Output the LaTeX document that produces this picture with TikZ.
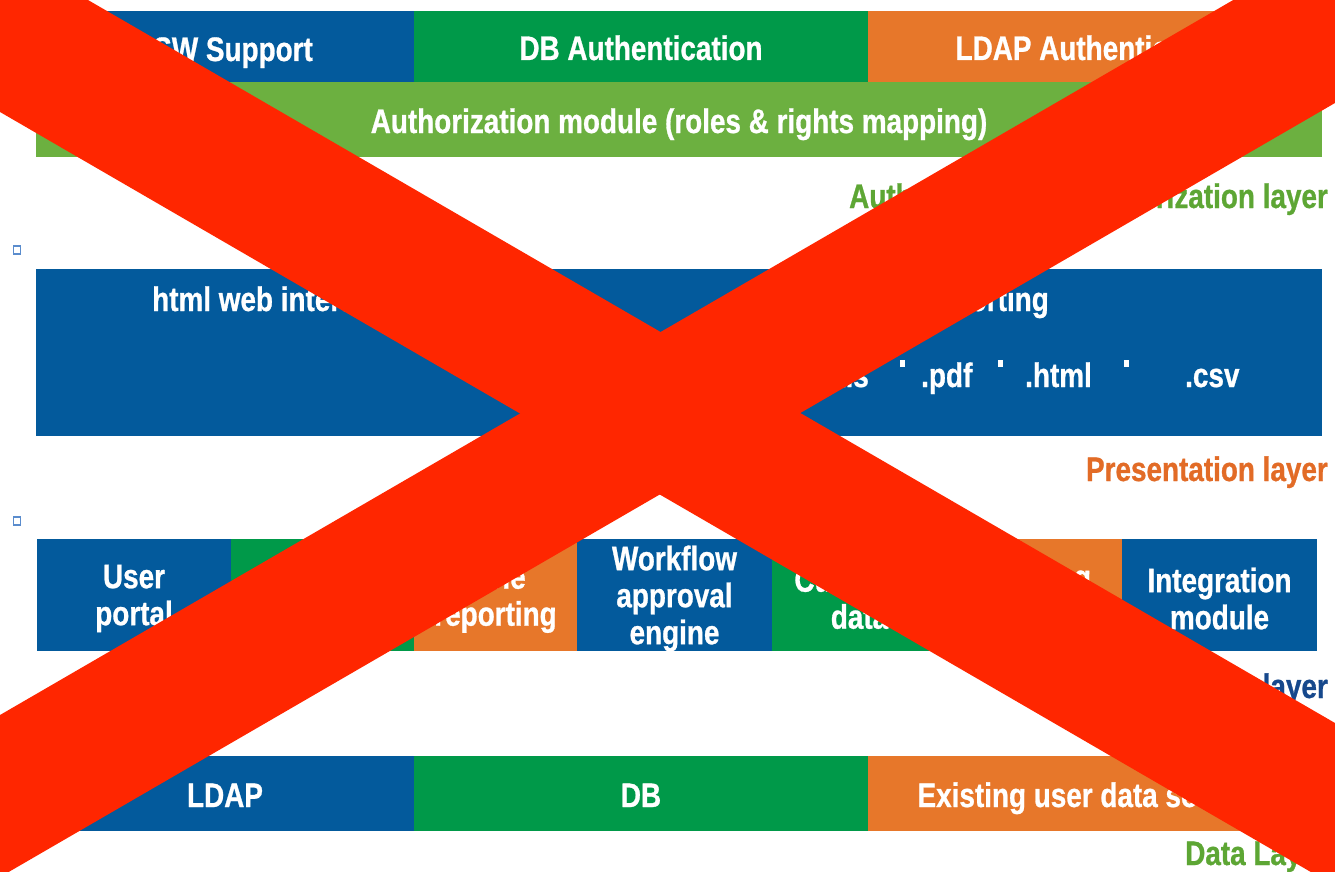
\documentclass[tikz,border=0pt]{standalone}
\usepackage{fontspec}
\setmainfont{Liberation Sans}[FakeStretch=0.82,FakeBold=0.8]
\definecolor{cblue}{RGB}{3,90,156}
\definecolor{cgreen}{RGB}{0,153,73}
\definecolor{corange}{RGB}{231,119,42}
\definecolor{clgreen}{RGB}{108,176,64}
\definecolor{labgreen}{RGB}{93,166,52}
\definecolor{laborange}{RGB}{226,107,38}
\definecolor{labblue}{RGB}{22,72,140}
\definecolor{xred}{RGB}{255,38,0}
\definecolor{sqblue}{RGB}{90,140,205}
\begin{document}
\begin{tikzpicture}[x=1pt,y=-1pt,
  blk/.style={rectangle, inner sep=0pt, outer sep=0pt, draw=none},
  wt/.style={text=white, inner sep=0pt, font=\bfseries\fontsize{34}{37}\selectfont, align=center},
  one/.style={wt, anchor=base, yshift=-13.5pt},
  multi/.style={wt, yshift=-3.5pt},
  lab/.style={inner sep=0pt, anchor=base east, font=\bfseries\fontsize{34}{37}\selectfont},
  sq/.style={rectangle, draw=sqblue, fill=white, line width=1.6pt, minimum width=7pt, minimum height=8pt, inner sep=0pt},
  bul/.style={rectangle, fill=white, draw=none, minimum width=5pt, minimum height=7pt, inner sep=0pt}]
\useasboundingbox (0,0) rectangle (1335,872);
\fill[white] (0,0) rectangle (1335,872);

% authentication / authorization layer
\node[blk, fill=cblue, minimum width=378pt, minimum height=71pt] (r1a) at (225,46.5) {};
\node[blk, fill=cgreen, minimum width=454pt, minimum height=71pt] (r1b) at (641,46.5) {};
\node[blk, fill=corange, minimum width=454pt, minimum height=71pt] (r1c) at (1095,46.5) {};
\node[blk, fill=clgreen, minimum width=1286pt, minimum height=75pt] (r2) at (679,119.5) {};
\node[wt, anchor=base east] (t1a) at (313,61) {SSO SW Support};
\node[one] (t1b) at (r1b.center) {DB Authentication};
\node[one] (t1c) at (r1c.center) {LDAP Authentication};
\node[one] (t2) at (r2.center) {Authorization module (roles \& rights mapping)};
\node[lab, text=labgreen] (l1) at (1328,208) {Authentication \& authorization layer};

\node[sq] (s1) at (16.8,250) {};
\node[sq] (s2) at (16.8,521) {};

% presentation layer
\node[blk, fill=cblue, minimum width=1286pt, minimum height=167pt] (pres) at (679,352.5) {};
\node[wt, anchor=base west] (html) at (152,311) {html web interface};
\node[wt, anchor=base east] (rep) at (1049,311) {Flexible reporting};
\node[wt, anchor=base east] (xls) at (869,387) {.xls};
\node[bul] (p1) at (902.5,363.5) {};
\node[wt, anchor=base west] (pdf) at (921,387) {.pdf};
\node[bul] (p2) at (1000.5,363.5) {};
\node[wt, anchor=base west] (htm) at (1025,387) {.html};
\node[bul] (p3) at (1126.5,363.5) {};
\node[wt, anchor=base west] (csv) at (1185,387) {.csv};
\node[lab, text=laborange] (l2) at (1328,481) {Presentation layer};

% business logic layer
\node[blk, fill=cblue, minimum width=194pt, minimum height=112pt] (b1) at (134,595) {};
\node[blk, fill=cgreen, minimum width=183pt, minimum height=112pt] (b2) at (322.5,595) {};
\node[blk, fill=corange, minimum width=163pt, minimum height=112pt] (b3) at (495.5,595) {};
\node[blk, fill=cblue, minimum width=195pt, minimum height=112pt] (b4) at (674.5,595) {};
\node[blk, fill=cgreen, minimum width=175pt, minimum height=112pt] (b5) at (859.5,595) {};
\node[blk, fill=corange, minimum width=175pt, minimum height=112pt] (b6) at (1034.5,595) {};
\node[blk, fill=cblue, minimum width=195pt, minimum height=112pt] (b7) at (1219.5,595) {};
\node[multi] (tb1) at (b1.center) {User\\portal};
\node[multi] (tb2) at (b2.center) {Admin\\console};
\node[multi] (tb3) at (b3.center) {Role\\reporting};
\node[multi] (tb4) at (b4.center) {Workflow\\approval\\engine};
\node[multi] (tb5) at (b5.center) {Customer\\data};
\node[multi] (tb6) at (b6.center) {Auditing\\\& logging};
\node[multi] (tb7) at (b7.center) {Integration\\module};
\node[lab, text=labblue] (l3) at (1328,698) {Business logic layer};

% data layer
\node[blk, fill=cblue, minimum width=378pt, minimum height=75pt] (d1) at (225,793.5) {};
\node[blk, fill=cgreen, minimum width=454pt, minimum height=75pt] (d2) at (641,793.5) {};
\node[blk, fill=corange, minimum width=454pt, minimum height=75pt] (d3) at (1095,793.5) {};
\node[one] (td1) at (d1.center) {LDAP};
\node[one] (td2) at (d2.center) {DB};
\node[one] (td3) at (d3.center) {Existing user data sources};
\node[lab, text=labgreen] (l4) at (1328,865) {Data Layer};

% red cross
\begin{scope}
\clip (0,0) rectangle (1335,872);
\fill[xred] (-50,-80) -- (1385,752) -- (1385,915) -- (-50,83) -- cycle;
\fill[xred] (-50,744) -- (1385,-88) -- (1385,74) -- (-50,906) -- cycle;
\end{scope}
\end{tikzpicture}
\end{document}
